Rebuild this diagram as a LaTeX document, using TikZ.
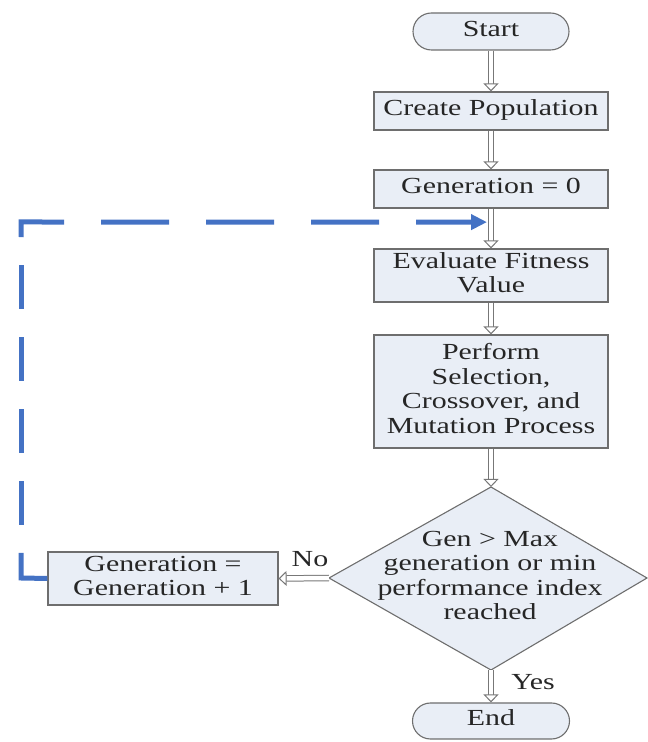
\documentclass[tikz,border=0pt]{standalone}
\usepackage{fontspec}
\setmainfont{Liberation Serif}
\usepackage{graphicx}
\usetikzlibrary{arrows.meta,shapes.misc,calc}
\definecolor{boxfill}{HTML}{E9EEF6}
\definecolor{boxline}{HTML}{6E6E6E}
\definecolor{arrowline}{HTML}{777777}
\definecolor{loopblue}{HTML}{4472C4}
\definecolor{txt}{HTML}{262626}
\newcommand\wt[1]{\scalebox{1.3}[1]{\begin{tabular}{@{}c@{}}#1\end{tabular}}}
\begin{document}
\begin{tikzpicture}[x=1pt,y=1pt,
  every node/.style={font=\fontsize{23}{24.5}\selectfont, text=txt},
  proc/.style={draw=boxline, fill=boxfill, line width=1.1pt, rectangle, inner sep=0pt, minimum width=234pt},
  term/.style={draw=boxline, fill=boxfill, line width=1.1pt, rounded rectangle, inner sep=0pt, minimum width=156pt, minimum height=37pt},
  dbl/.style={draw=arrowline, line width=1pt, double=white, double distance=4.5pt, -{Triangle[open,width=15pt,length=8pt,fill=white]}},
  loop/.style={draw=loopblue, line width=5pt},
  lbl/.style={inner sep=0pt}]
\useasboundingbox (0,0) rectangle (648,742);
\node[term] (start) at (491,710.5) {\wt{Start}};
\node[proc, minimum height=38pt] (create) at (491,631) {\wt{Create Population}};
\node[proc, minimum height=38pt] (gen0) at (491,553) {\wt{Generation = 0}};
\node[proc, minimum height=53pt] (eval) at (491,466.5) {\wt{Evaluate Fitness\\Value}};
\node[proc, minimum height=113pt] (perf) at (491,350.5) {\wt{Perform\\Selection,\\Crossover, and\\Mutation Process}};
\coordinate (dt) at (491,255);
\coordinate (dl) at (329,164);
\coordinate (db) at (491,72);
\coordinate (dr) at (647,164);
\draw[draw=boxline, fill=boxfill, line width=1.1pt] (dt) -- (dr) -- (db) -- (dl) -- cycle;
\node (dec) at (490,164) {\wt{Gen > Max\\generation or min\\performance index\\reached}};
\node[proc, minimum width=230pt, minimum height=53pt] (gen1) at (163,163.5) {\wt{Generation =\\Generation + 1}};
\node[term, minimum width=157pt, minimum height=36pt] (end) at (491,21) {\wt{End}};
\node[lbl] (no) at (310,180) {\wt{No}};
\node[lbl] (yes) at (533,57) {\wt{Yes}};
\draw[dbl] (start.south) -- (create.north);
\draw[dbl] (create.south) -- (gen0.north);
\draw[dbl] (gen0.south) -- (eval.north);
\draw[dbl] (eval.south) -- (perf.north);
\draw[dbl] (perf.south) -- (dt);
\draw[dbl] (dl) -- (gen1.east);
\draw[dbl] (db) -- (end.north);
\coordinate (cb) at (21,164);
\coordinate (cbt) at (21,189);
\coordinate (ct) at (21,520);
\coordinate (ctb) at (21,505);
\coordinate (join) at ($(gen0.south)!0.34!(eval.north)$);
\draw[loop] (gen1.west) -- (cb) -- (cbt);
\draw[loop, dash pattern=on 44pt off 28pt, dash phase=44pt] (cbt) -- (ctb);
\draw[loop, dash pattern=on 58pt off 37pt on 68pt off 37pt on 68pt off 37pt on 68pt off 37pt on 200pt, -{Triangle[width=15pt,length=16pt]}] (ctb) -- (ct) -- ([xshift=-4pt]join);
\end{tikzpicture}
\end{document}
